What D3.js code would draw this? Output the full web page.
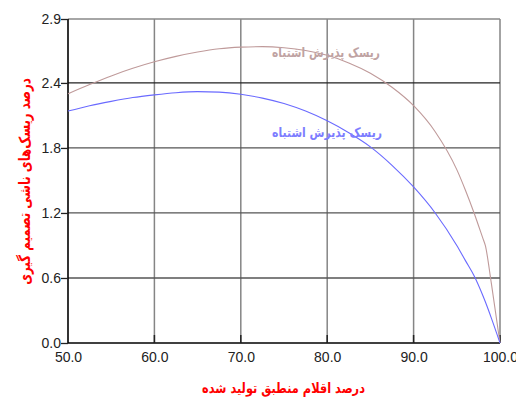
<!DOCTYPE html>
<html>
<head>
<meta charset="utf-8">
<script src="https://cdn.jsdelivr.net/npm/d3@7"></script>
<style>
  body { margin: 0; background: #fff; }
  svg { display: block; }
</style>
</head>
<body>
<div id="Chart"></div>
<script>
// values
var xValues = [50, 52.5, 55, 57.5, 60, 62.5, 65, 67.5, 70, 72.5, 75, 77.5, 80, 82.5, 85, 87.5, 90, 92.5, 95, 96, 97, 98, 98.3, 99, 100];
var brownValues = [2.30, 2.385, 2.465, 2.535, 2.595, 2.645, 2.685, 2.715, 2.73, 2.735, 2.725, 2.70, 2.655, 2.585, 2.49, 2.36, 2.19, 1.95, 1.60, 1.41, 1.20, 0.97, 0.90, 0.55, 0];
var blueValues = [2.14, 2.19, 2.23, 2.265, 2.29, 2.31, 2.32, 2.315, 2.295, 2.26, 2.21, 2.14, 2.05, 1.94, 1.81, 1.64, 1.44, 1.20, 0.90, 0.76, 0.62, 0.44, 0.38, 0.23, 0];
var xTicks = [50, 60, 70, 80, 90, 100];
var yTicks = [0, 0.6, 1.2, 1.8, 2.4, 2.99];
var yTickLabels = ["0.0", "0.6", "1.2", "1.8", "2.4", "2.9"];
var seriesLabel = "ریسک پذیرش اشتباه";
var xTitle = "درصد اقلام منطبق تولید شده";
var yTitle = "درصد ریسک‌های ناشی تصمیم گیری";

var width = 516, height = 398;
var svg = d3.select("#Chart").append("svg")
	.attr("width", width).attr("height", height);

var x = d3.scaleLinear().domain([50, 100]).range([68, 500]);
var y = d3.scaleLinear().domain([0, 2.99]).range([343, 19]);

// squeeze a text horizontally so it takes the given width
function fitText(sel, target, tx, ty, rot) {
	let k = target / sel.node().getComputedTextLength();
	sel.attr("transform", `translate(${tx},${ty}) rotate(${rot}) scale(${k},1)`);
}

// grid
svg.append("g").selectAll("line").data(xTicks.slice(1)).join("line")
	.attr("x1", d => x(d)).attr("x2", d => x(d))
	.attr("y1", y(2.99)).attr("y2", y(0))
	.attr("stroke", "#858585").attr("stroke-width", 1.5);
svg.append("g").selectAll("line").data(yTicks.slice(1)).join("line")
	.attr("x1", x(50)).attr("x2", x(100))
	.attr("y1", d => y(d)).attr("y2", d => y(d))
	.attr("stroke", d => d == 2.4 ? "#222" : (d == 2.99 ? "#888" : "#555"))
	.attr("stroke-width", 1.3);

// axes
var xAxis = svg.append("g").attr("transform", `translate(0,${y(0)})`)
	.call(d3.axisBottom(x).tickValues(xTicks).tickFormat(d => d.toFixed(1)).tickSize(0).tickPadding(9));
var yAxis = svg.append("g").attr("transform", `translate(${x(50)},0)`)
	.call(d3.axisLeft(y).tickValues(yTicks).tickFormat((d, i) => yTickLabels[i]).tickSize(7).tickPadding(0));
[xAxis, yAxis].forEach(a => {
	a.select(".domain").attr("stroke", "#000").attr("stroke-width", 1.6);
	a.selectAll("text").attr("font-family", "Liberation Sans, Arial, sans-serif")
		.attr("font-size", 14).attr("fill", "#222");
	a.selectAll(".tick line").attr("stroke", "#222").attr("stroke-width", 1.3);
});
yAxis.select(".domain").attr("d", `M0,${y(2.99)}V${y(0)}`);
xAxis.select(".domain").attr("d", `M${x(50)},0H${x(100)}`);
// x ticks point into the plot
svg.append("g").selectAll("line").data(xTicks.slice(1)).join("line")
	.attr("x1", d => x(d)).attr("x2", d => x(d))
	.attr("y1", y(0) - 8).attr("y2", y(0))
	.attr("stroke", "#222").attr("stroke-width", 1.5);

// curves
var line = d3.line().curve(d3.curveMonotoneX);
svg.append("path")
	.attr("d", line(xValues.map((d, i) => [x(d), y(brownValues[i])])))
	.attr("fill", "none").attr("stroke", "#bf9a9a").attr("stroke-width", 1.1);
svg.append("path")
	.attr("d", line(xValues.map((d, i) => [x(d), y(blueValues[i])])))
	.attr("fill", "none").attr("stroke", "#6a6aff").attr("stroke-width", 1.1);

// series labels
var brownLabel = svg.append("text").text(seriesLabel)
	.attr("text-anchor", "middle")
	.attr("font-family", "DejaVu Sans").attr("font-weight", "bold").attr("font-size", 13)
	.attr("fill", "#bfa3a3");
fitText(brownLabel, 108, 326, 57, 0);
var blueLabel = svg.append("text").text(seriesLabel)
	.attr("text-anchor", "middle")
	.attr("font-family", "DejaVu Sans").attr("font-weight", "bold").attr("font-size", 13)
	.attr("fill", "#7d7dff");
fitText(blueLabel, 110, 327, 137, 0);

// titles
var xt = svg.append("text").text(xTitle)
	.attr("text-anchor", "middle")
	.attr("font-family", "DejaVu Sans").attr("font-weight", "bold").attr("font-size", 14)
	.attr("fill", "#f00");
fitText(xt, 163, 283.5, 393, 0);
var yt = svg.append("text").text(yTitle)
	.attr("text-anchor", "middle")
	.attr("font-family", "DejaVu Sans").attr("font-weight", "bold").attr("font-size", 15.5)
	.attr("fill", "#f00");
fitText(yt, 207, 30, 181.5, -90);
</script>
</body>
</html>
